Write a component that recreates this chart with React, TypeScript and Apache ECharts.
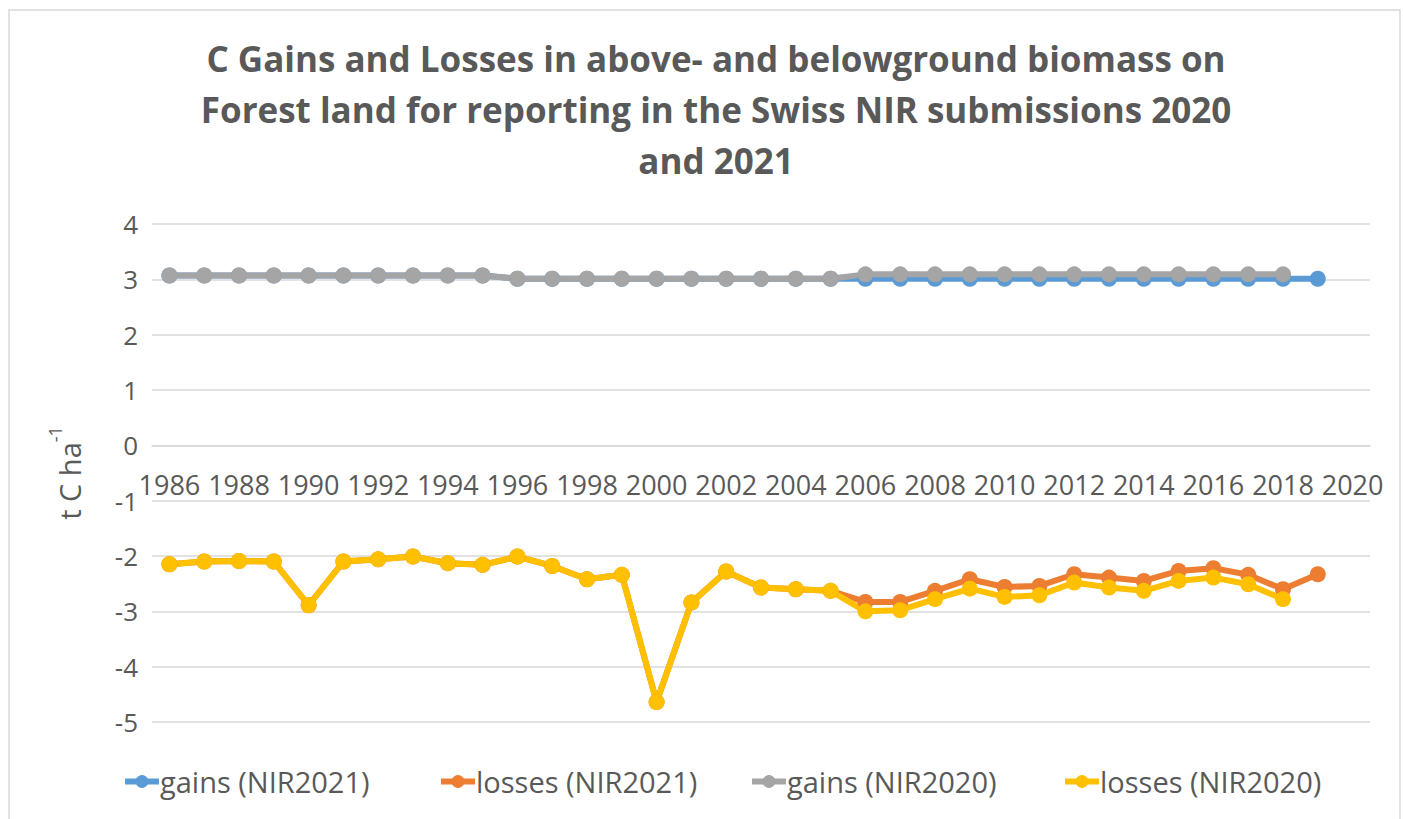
import React, { useEffect, useRef } from "react";
import * as echarts from "echarts";

const years = [
  "1986","1987","1988","1989","1990","1991","1992","1993","1994","1995",
  "1996","1997","1998","1999","2000","2001","2002","2003","2004","2005",
  "2006","2007","2008","2009","2010","2011","2012","2013","2014","2015",
  "2016","2017","2018","2019","2020",
];

const gainsNIR2021 = [
  3.07, 3.07, 3.07, 3.07, 3.07, 3.07, 3.07, 3.07, 3.07, 3.07,
  3.01, 3.01, 3.01, 3.01, 3.01, 3.01, 3.01, 3.01, 3.01, 3.01,
  3.01, 3.01, 3.01, 3.01, 3.01, 3.01, 3.01, 3.01, 3.01, 3.01,
  3.01, 3.01, 3.01, 3.01, null,
];

const lossesNIR2021 = [
  -2.15, -2.10, -2.09, -2.10, -2.89, -2.10, -2.06, -2.01, -2.13, -2.16,
  -2.01, -2.18, -2.42, -2.34, -4.64, -2.84, -2.28, -2.57, -2.60, -2.63,
  -2.83, -2.83, -2.63, -2.42, -2.56, -2.54, -2.33, -2.39, -2.45, -2.27,
  -2.22, -2.34, -2.60, -2.33, null,
];

const gainsNIR2020 = [
  3.07, 3.07, 3.07, 3.07, 3.07, 3.07, 3.07, 3.07, 3.07, 3.07,
  3.01, 3.01, 3.01, 3.01, 3.01, 3.01, 3.01, 3.01, 3.01, 3.01,
  3.09, 3.09, 3.09, 3.09, 3.09, 3.09, 3.09, 3.09, 3.09, 3.09,
  3.09, 3.09, 3.09, null, null,
];

const lossesNIR2020 = [
  -2.15, -2.10, -2.09, -2.10, -2.89, -2.10, -2.06, -2.01, -2.13, -2.16,
  -2.01, -2.18, -2.42, -2.34, -4.64, -2.84, -2.28, -2.57, -2.60, -2.63,
  -3.00, -2.98, -2.78, -2.59, -2.74, -2.71, -2.48, -2.57, -2.63, -2.45,
  -2.39, -2.51, -2.78, null, null,
];

const yTicks = { min: -5, max: 4, interval: 1 };

const seriesNames = ["gains (NIR2021)", "losses (NIR2021)", "gains (NIR2020)", "losses (NIR2020)"];
const seriesColors = ["#5B9BD5", "#ED7D31", "#A5A5A5", "#FFC000"];
const seriesData = [gainsNIR2021, lossesNIR2021, gainsNIR2020, lossesNIR2020];

const titleText =
  "C Gains and Losses in above- and belowground biomass on\nForest land for reporting in the Swiss NIR submissions 2020\nand 2021";

const FONT = "'Open Sans', sans-serif";
const TEXT_COLOR = "#595959";
const GRID_COLOR = "#D9D9D9";

export default function App() {
  const ref = useRef<HTMLDivElement>(null);

  useEffect(() => {
    if (!ref.current) return;
    const chart = echarts.init(ref.current, undefined, { renderer: "svg" });
    const gridTop = 224;
    const gridBottom = 97;
    const gridHeight = 819 - gridTop - gridBottom;
    const zeroOffset = -gridHeight * (0 - yTicks.min) / (yTicks.max - yTicks.min);
    const legendLefts = [117, 433, 744, 1057];
    chart.setOption({
      animation: false,
      backgroundColor: "#FFFFFF",
      textStyle: { fontFamily: FONT },
      title: {
        text: titleText,
        left: 711,
        top: 28,
        textAlign: "center",
        textStyle: {
          fontFamily: FONT,
          fontWeight: "bold",
          fontSize: 35,
          lineHeight: 51,
          color: TEXT_COLOR,
        },
      },
      graphic: [
        {
          type: "rect",
          shape: { x: 9, y: 10, width: 1391, height: 830 },
          style: { fill: "none", stroke: GRID_COLOR, lineWidth: 1.5 },
          silent: true,
        },
      ],
      legend: seriesNames.map((n, i) => ({
        data: [n],
        left: legendLefts[i],
        top: 762,
        itemWidth: 34,
        itemHeight: 16,
        itemGap: 0,
        lineStyle: { width: 6 },
        textStyle: { fontFamily: FONT, fontSize: 29, color: TEXT_COLOR, padding: [0, 0, 0, -4] },
      })),
      grid: { left: 152, right: 33, top: gridTop, bottom: gridBottom, containLabel: false },
      xAxis: {
        type: "category",
        data: years,
        boundaryGap: true,
        position: "bottom",
        offset: zeroOffset,
        axisLine: { onZero: false, lineStyle: { color: GRID_COLOR, width: 1.5 } },
        axisTick: { show: false },
        axisLabel: {
          interval: 1,
          fontFamily: FONT,
          fontSize: 27,
          color: TEXT_COLOR,
          margin: 26,
        },
        splitLine: { show: false },
      },
      yAxis: {
        type: "value",
        min: yTicks.min,
        max: yTicks.max,
        interval: yTicks.interval,
        axisLine: { show: false },
        axisTick: { show: false },
        axisLabel: { fontFamily: FONT, fontSize: 26, color: TEXT_COLOR, margin: 14 },
        splitLine: { lineStyle: { color: GRID_COLOR, width: 1.5 } },
        name: "{a|t C ha}{b|-1}",
        nameLocation: "middle",
        nameGap: 68,
        nameRotate: 90,
        nameTextStyle: {
          rich: {
            a: { fontFamily: FONT, fontSize: 29, color: TEXT_COLOR, lineHeight: 38, verticalAlign: "bottom" },
            b: { fontFamily: FONT, fontSize: 18, color: TEXT_COLOR, lineHeight: 38, verticalAlign: "top" },
          },
        },
      },
      series: seriesNames.map((n, i) => ({
        name: n,
        type: "line",
        data: seriesData[i],
        color: seriesColors[i],
        symbol: "circle",
        symbolSize: 16,
        showSymbol: true,
        lineStyle: { width: 6, color: seriesColors[i] },
        itemStyle: { color: seriesColors[i] },
        connectNulls: false,
      })),
    });
    return () => chart.dispose();
  }, []);

  return (
    <div
      ref={ref}
      style={{ position: "fixed", left: 0, top: 0, width: 1403, height: 819 }}
    />
  );
}
